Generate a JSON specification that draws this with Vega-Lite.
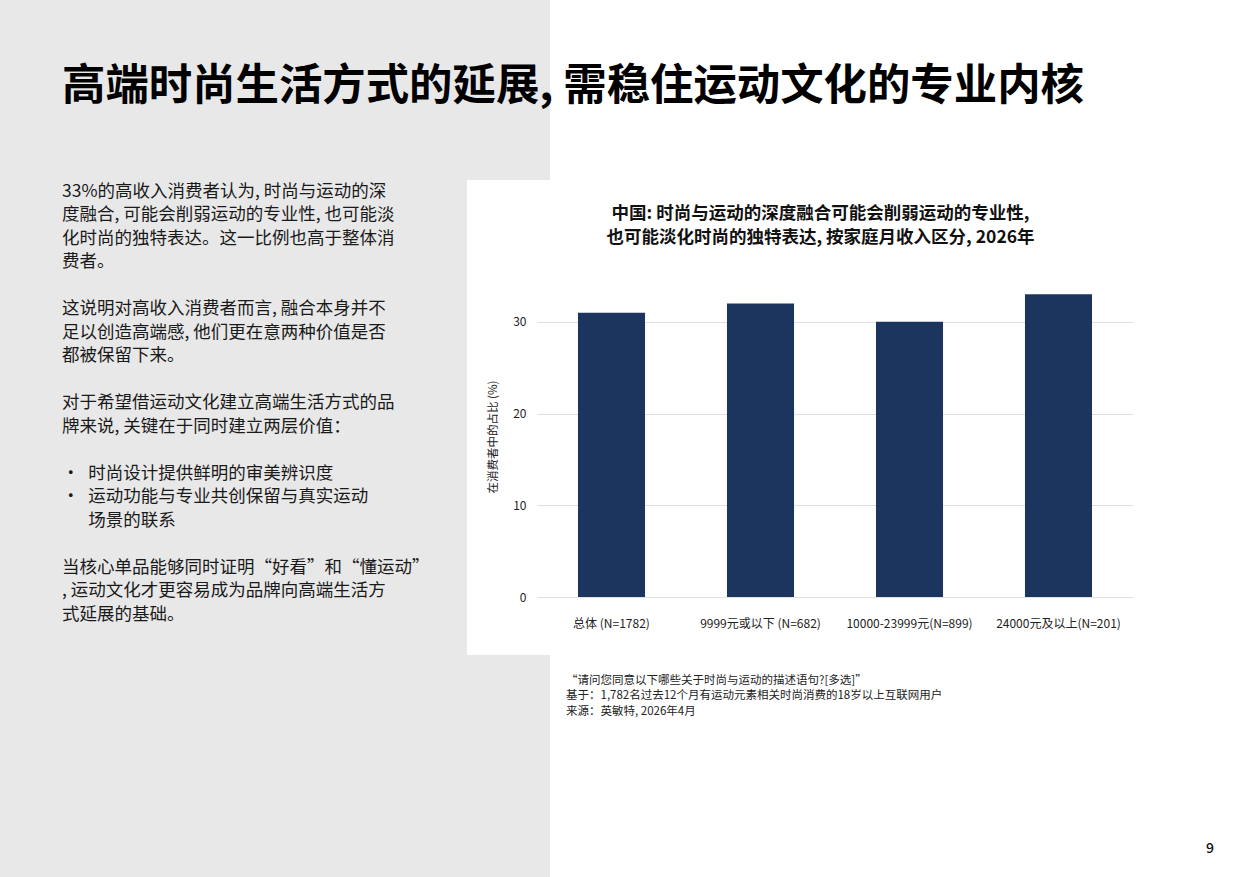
{
  "$schema": "https://vega.github.io/schema/vega-lite/v6.json",
  "background": "#ffffff",
  "padding": 0,
  "spacing": 0,
  "config": {
    "font": "Noto Sans CJK SC",
    "view": {"stroke": null},
    "title": {"font": "Noto Sans CJK SC", "fontWeight": "normal", "fontSize": 17.5, "lineHeight": 23.5, "color": "#1a1a1a", "anchor": "start", "orient": "top", "dx": 62}
  },
  "vconcat": [
    {
      "width": 550,
      "height": 180,
      "view": {"fill": "#e8e8e8", "stroke": null},
      "data": {"values": []},
      "mark": "point",
      "title": {
        "text": "高端时尚生活方式的延展, 需稳住运动文化的专业内核",
        "anchor": "start",
        "orient": "top",
        "dx": 62,
        "offset": -109,
        "fontSize": 43.4,
        "fontWeight": "bold",
        "color": "#000000"
      }
    },
    {
      "spacing": 20,
      "hconcat": [
        {
          "spacing": 0,
          "vconcat": [
            {
              "width": 467,
              "height": 104,
              "view": {"fill": "#e8e8e8", "stroke": null},
              "data": {"values": []},
              "mark": "point",
              "title": {
                "text": [
                  "33%的高收入消费者认为, 时尚与运动的深",
                  "度融合, 可能会削弱运动的专业性, 也可能淡",
                  "化时尚的独特表达。这一比例也高于整体消",
                  "费者。"
                ],
                "offset": -90.5
              }
            },
            {
              "width": 467,
              "height": 94,
              "view": {"fill": "#e8e8e8", "stroke": null},
              "data": {"values": []},
              "mark": "point",
              "title": {
                "text": [
                  "这说明对高收入消费者而言, 融合本身并不",
                  "足以创造高端感, 他们更在意两种价值是否",
                  "都被保留下来。"
                ],
                "offset": -80.5
              }
            },
            {
              "width": 467,
              "height": 70,
              "view": {"fill": "#e8e8e8", "stroke": null},
              "data": {"values": []},
              "mark": "point",
              "title": {
                "text": [
                  "对于希望借运动文化建立高端生活方式的品",
                  "牌来说, 关键在于同时建立两层价值："
                ],
                "offset": -57
              }
            },
            {
              "width": 467,
              "height": 94,
              "view": {"fill": "#e8e8e8", "stroke": null},
              "data": {"values": []},
              "mark": "point",
              "title": {
                "text": [
                  "・\u2002时尚设计提供鲜明的审美辨识度",
                  "・\u2002运动功能与专业共创保留与真实运动",
                  "\u200b\u3000\u2002场景的联系"
                ],
                "offset": -81
              }
            },
            {
              "width": 467,
              "height": 113,
              "view": {"fill": "#e8e8e8", "stroke": null},
              "data": {"values": []},
              "mark": "point",
              "title": {
                "text": [
                  "当核心单品能够同时证明“好看”和“懂运动”",
                  ", 运动文化才更容易成为品牌向高端生活方",
                  "式延展的基础。"
                ],
                "offset": -81
              }
            }
          ]
        },
        {
          "spacing": 0,
          "vconcat": [
            {
              "width": 596,
              "height": 96,
              "data": {"values": []},
              "mark": "point",
              "title": {
                "text": [
                  "中国: 时尚与运动的深度融合可能会削弱运动的专业性,",
                  "也可能淡化时尚的独特表达, 按家庭月收入区分, 2026年"
                ],
                "anchor": "middle",
                "frame": "group",
                "orient": "top",
                "dx": -14.5,
                "offset": -66,
                "fontSize": 17.5,
                "fontWeight": "bold",
                "lineHeight": 24,
                "color": "#111111"
              }
            },
            {
              "width": 596,
              "height": 321,
              "data": {
                "values": [
                  {"group": "总体 (N=1782)", "pct": 31},
                  {"group": "9999元或以下 (N=682)", "pct": 32},
                  {"group": "10000-23999元(N=899)", "pct": 30},
                  {"group": "24000元及以上(N=201)", "pct": 33}
                ]
              },
              "mark": {"type": "bar", "color": "#1c355e"},
              "encoding": {
                "x": {
                  "field": "group",
                  "type": "nominal",
                  "sort": null,
                  "scale": {"paddingInner": 0.55, "paddingOuter": 0.275},
                  "axis": {
                    "title": null,
                    "labelAngle": 0,
                    "ticks": false,
                    "domain": false,
                    "labelPadding": 21,
                    "labelFontSize": 12,
                    "labelColor": "#222222",
                    "labelFont": "Noto Sans CJK SC"
                  }
                },
                "y": {
                  "field": "pct",
                  "type": "quantitative",
                  "scale": {"domain": [0, 35], "nice": false},
                  "axis": {
                    "title": "在消费者中的占比 (%)",
                    "values": [0, 10, 20, 30],
                    "grid": true,
                    "gridColor": "#e0e0e0",
                    "domain": false,
                    "ticks": false,
                    "labelPadding": 11,
                    "labelFontSize": 12,
                    "labelColor": "#222222",
                    "titleFontSize": 11.5,
                    "titleFontWeight": "normal",
                    "titleColor": "#222222",
                    "titlePadding": 14
                  }
                }
              }
            }
          ]
        }
      ]
    },
    {
      "spacing": 0,
      "hconcat": [
        {
          "width": 550,
          "height": 222,
          "view": {"fill": "#e8e8e8", "stroke": null},
          "data": {"values": []},
          "mark": "point"
        },
        {
          "width": 640,
          "height": 222,
          "data": {"values": []},
          "mark": "point",
          "title": {
            "text": [
              "“请问您同意以下哪些关于时尚与运动的描述语句?[多选]”",
              "基于：1,782名过去12个月有运动元素相关时尚消费的18岁以上互联网用户",
              "来源：英敏特, 2026年4月"
            ],
            "anchor": "start",
            "orient": "top",
            "dx": 16,
            "offset": -62,
            "fontSize": 11.5,
            "fontWeight": "normal",
            "lineHeight": 15.5,
            "color": "#222222"
          }
        },
        {
          "width": 50,
          "height": 222,
          "data": {"values": []},
          "mark": "point",
          "title": {
            "text": "9",
            "anchor": "start",
            "orient": "top",
            "dx": 16,
            "offset": -201,
            "fontSize": 14,
            "fontWeight": 500,
            "color": "#111111"
          }
        }
      ]
    }
  ]
}
